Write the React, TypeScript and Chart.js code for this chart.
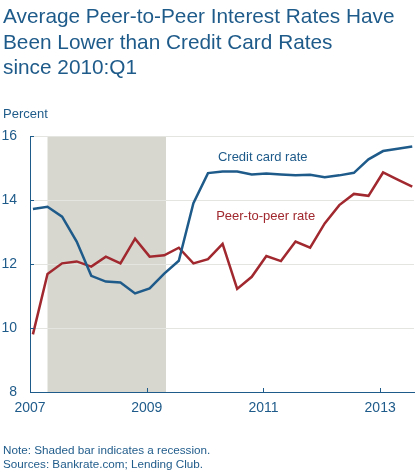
import React, { useEffect, useRef } from "react";
import { Chart, registerables } from "chart.js";

Chart.register(...registerables);

const quarters = [
  "2007:Q1", "2007:Q2", "2007:Q3", "2007:Q4",
  "2008:Q1", "2008:Q2", "2008:Q3", "2008:Q4",
  "2009:Q1", "2009:Q2", "2009:Q3", "2009:Q4",
  "2010:Q1", "2010:Q2", "2010:Q3", "2010:Q4",
  "2011:Q1", "2011:Q2", "2011:Q3", "2011:Q4",
  "2012:Q1", "2012:Q2", "2012:Q3", "2012:Q4",
  "2013:Q1", "2013:Q2", "2013:Q3",
];

const creditCardRate = [
  13.72, 13.79, 13.48, 12.7, 11.63, 11.45, 11.42, 11.08, 11.24, 11.7, 12.1, 13.9,
  14.84, 14.89, 14.89, 14.8, 14.83, 14.8, 14.77, 14.79, 14.71, 14.77, 14.85, 15.27,
  15.53, 15.6, 15.67,
];

const peerToPeerRate = [
  9.8, 11.69, 12.02, 12.08, 11.92, 12.23, 12.02, 12.79, 12.23, 12.27, 12.51, 12.02,
  12.15, 12.63, 11.22, 11.6, 12.25, 12.09, 12.7, 12.51, 13.27, 13.84, 14.19, 14.13,
  14.86, 14.64, 14.42,
];

const yearTicks = [2007, 2009, 2011, 2013];
const yTicks = [8, 10, 12, 14, 16];
const recession = [2007.3, 2009.33];

const BLUE = "#1f5b8a";
const RED = "#a0282e";
const SHADE = "#d7d6cf";
const GRID = "#e4e4e0";
const FONT = "'Liberation Sans', Arial, Helvetica, sans-serif";

const quarterToX = (q: string) => {
  const [y, qq] = q.split(":Q");
  return Number(y) + (Number(qq) - 1) / 4 + 0.05;
};

const App = () => {
  const ref = useRef<HTMLCanvasElement | null>(null);

  useEffect(() => {
    if (!ref.current) return;
    const ccData = quarters.map((q, i) => ({ x: quarterToX(q), y: creditCardRate[i] }));
    const p2pData = quarters.map((q, i) => ({ x: quarterToX(q), y: peerToPeerRate[i] }));

    const overlay = {
      id: "overlay",
      beforeDraw(chart: any) {
        const { ctx, chartArea, scales } = chart;
        const x0 = scales.x.getPixelForValue(recession[0]);
        const x1 = scales.x.getPixelForValue(recession[1]);
        ctx.save();
        ctx.fillStyle = SHADE;
        ctx.fillRect(x0, chartArea.top, x1 - x0, chartArea.bottom - chartArea.top);
        ctx.restore();
      },
      afterDraw(chart: any) {
        const { ctx, chartArea, scales } = chart;
        ctx.save();
        ctx.strokeStyle = BLUE;
        ctx.lineWidth = 1;
        yearTicks.slice(1).forEach((v) => {
          const x = Math.round(scales.x.getPixelForValue(v)) + 0.5;
          ctx.beginPath();
          ctx.moveTo(x, chartArea.bottom);
          ctx.lineTo(x, chartArea.bottom - 4);
          ctx.stroke();
        });
        yTicks.slice(1).forEach((v) => {
          const y = Math.round(scales.y.getPixelForValue(v)) + 0.5;
          ctx.beginPath();
          ctx.moveTo(chartArea.left, y);
          ctx.lineTo(chartArea.left + 4, y);
          ctx.stroke();
        });
        ctx.font = `13px ${FONT}`;
        ctx.textBaseline = "middle";
        ctx.textAlign = "left";
        ctx.fillStyle = BLUE;
        ctx.fillText("Credit card rate", scales.x.getPixelForValue(2010.22), scales.y.getPixelForValue(15.34));
        ctx.fillStyle = RED;
        ctx.fillText("Peer-to-peer rate", scales.x.getPixelForValue(2010.19), scales.y.getPixelForValue(13.5));
        ctx.restore();
      },
    };

    const chart = new Chart(ref.current, {
      type: "line",
      data: {
        datasets: [
          {
            label: "Credit card rate",
            data: ccData,
            borderColor: BLUE,
            borderWidth: 2.5,
            pointRadius: 0,
            tension: 0,
          },
          {
            label: "Peer-to-peer rate",
            data: p2pData,
            borderColor: RED,
            borderWidth: 2.5,
            pointRadius: 0,
            tension: 0,
          },
        ],
      },
      options: {
        responsive: false,
        animation: false,
        layout: { padding: { left: 0, top: 136, right: 6, bottom: 0 } },
        plugins: { legend: { display: false }, tooltip: { enabled: false } },
        scales: {
          x: {
            type: "linear",
            min: 2007,
            max: 2013.58,
            afterBuildTicks: (scale: any) => {
              scale.ticks = yearTicks.map((v) => ({ value: v }));
            },
            afterFit: (scale: any) => {
              scale.height = 84;
            },
            grid: { display: false, drawTicks: false },
            border: { display: true, color: BLUE, width: 1 },
            ticks: {
              color: BLUE,
              font: { family: FONT, size: 14 },
              padding: 8,
              maxRotation: 0,
              autoSkip: false,
              callback: (v: any) => String(v),
            },
          },
          y: {
            type: "linear",
            min: 8,
            max: 16,
            afterBuildTicks: (scale: any) => {
              scale.ticks = yTicks.map((v) => ({ value: v }));
            },
            afterFit: (scale: any) => {
              scale.width = 30;
            },
            grid: { color: GRID, lineWidth: 1, drawTicks: false },
            border: { display: true, color: BLUE, width: 1 },
            ticks: {
              color: BLUE,
              font: { family: FONT, size: 14 },
              padding: 13,
              callback: (v: any) => String(v),
            },
          },
        },
      },
      plugins: [overlay],
    } as any);

    return () => chart.destroy();
  }, []);

  const textStyle: React.CSSProperties = {
    position: "absolute",
    left: 3,
    color: BLUE,
    fontFamily: FONT,
    margin: 0,
    whiteSpace: "nowrap",
  };

  return (
    <div style={{ position: "fixed", left: 0, top: 0, width: 420, height: 476, background: "#fff", overflow: "hidden" }}>
      <canvas ref={ref} width={420} height={476} style={{ position: "absolute", left: 0, top: 0 }} />
      <div style={{ ...textStyle, top: 3.3, fontSize: 20.8, lineHeight: "25.5px" }}>
        Average Peer-to-Peer Interest Rates Have
        <br />
        Been Lower than Credit Card Rates
        <br />
        since 2010:Q1
      </div>
      <div style={{ ...textStyle, top: 106, fontSize: 13, lineHeight: "15px" }}>Percent</div>
      <div style={{ ...textStyle, top: 443, fontSize: 11.7, lineHeight: "14.3px" }}>
        Note: Shaded bar indicates a recession.
        <br />
        Sources: Bankrate.com; Lending Club.
      </div>
    </div>
  );
};

export default App;
